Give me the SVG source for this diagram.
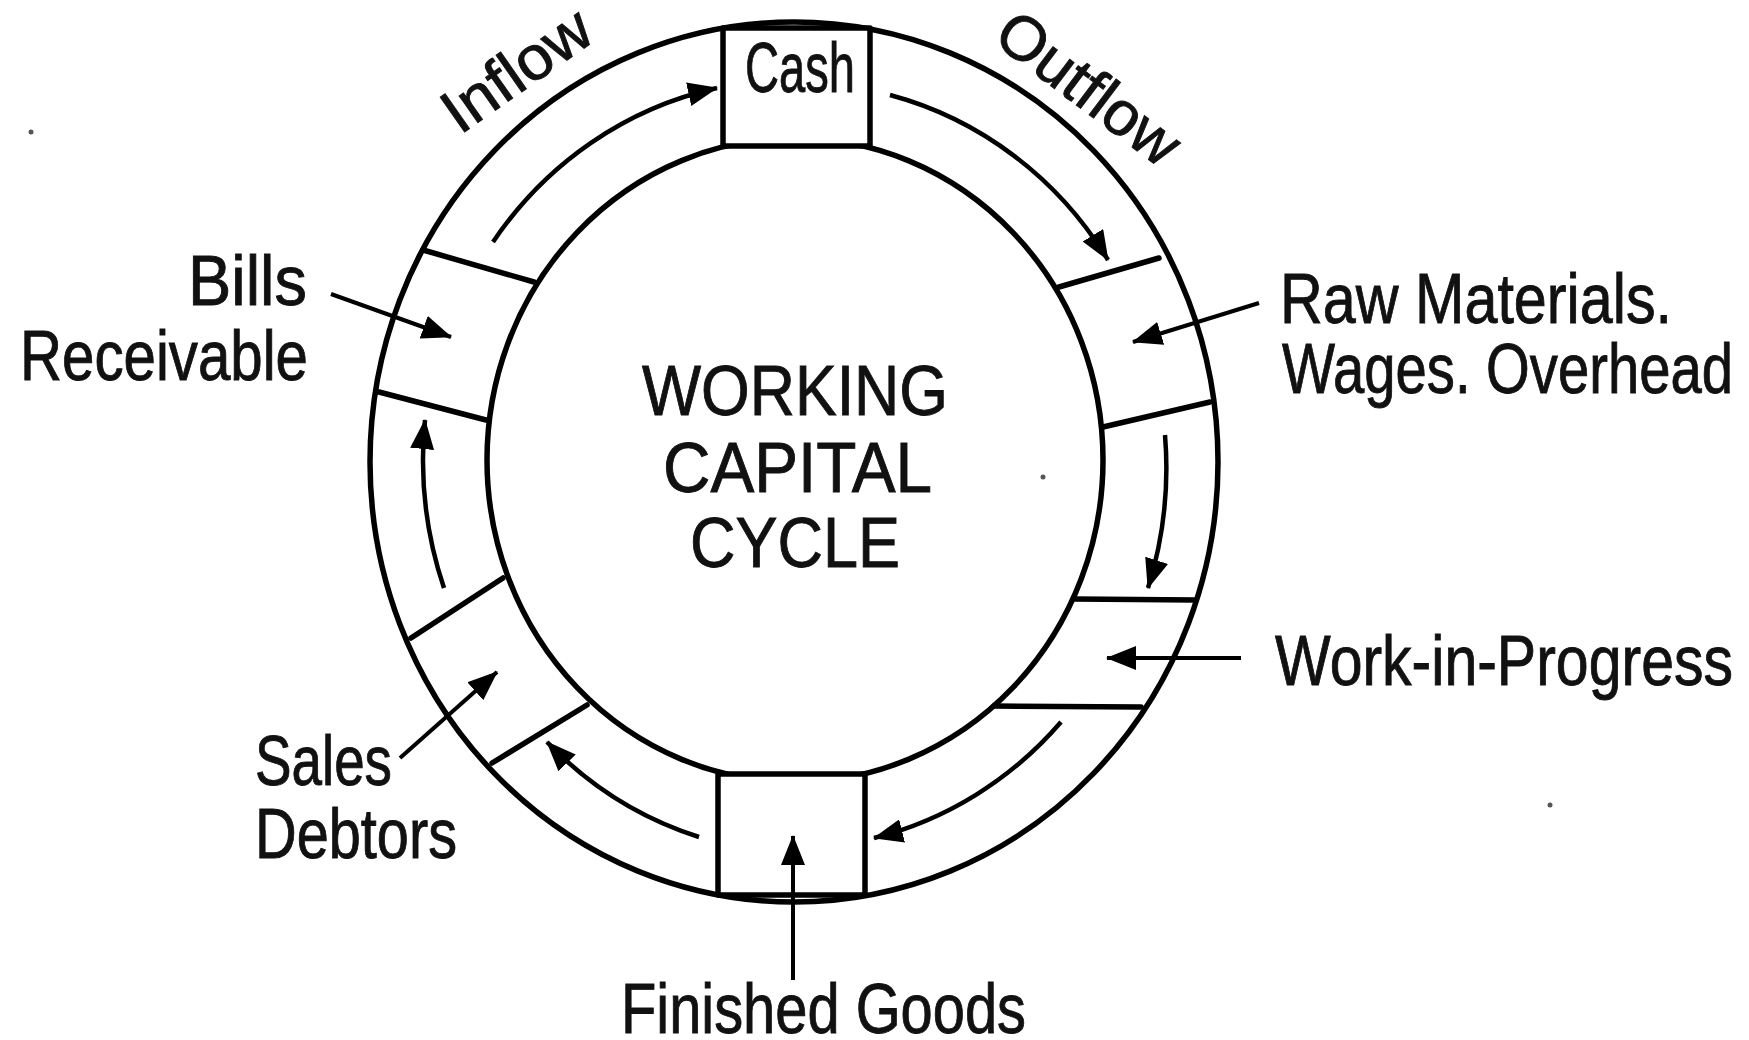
<svg xmlns="http://www.w3.org/2000/svg" width="1749" height="1040" viewBox="0 0 1749 1040">
  <defs>
    <marker id="ah" markerUnits="userSpaceOnUse" markerWidth="32" markerHeight="24" refX="29" refY="12" orient="auto">
      <path d="M0,0 L30,12 L0,24 Z" fill="#000"/>
    </marker>
    <style>
      .ring { fill: none; stroke: #000; stroke-width: 5.5; }
      .div { stroke: #000; stroke-width: 5.5; stroke-linecap: round; }
      .box { fill: #fff; stroke: #000; stroke-width: 5.5; stroke-linejoin: round; }
      .flow { fill: none; stroke: #000; stroke-width: 4.5; marker-end: url(#ah); }
      .ptr { fill: none; stroke: #000; stroke-width: 4; marker-end: url(#ah); }
      .lbl { font-family: "Liberation Sans", Arial, sans-serif; font-size: 70px; fill: #111; stroke: #111; stroke-width: 0.9; }
      .ctr { font-family: "Liberation Sans", Arial, sans-serif; font-size: 70px; fill: #111; stroke: #111; stroke-width: 0.9; }
      .rot { font-family: "Liberation Sans", Arial, sans-serif; font-size: 62px; fill: #111; stroke: #111; stroke-width: 0.9; text-anchor: middle; }
    </style>
  </defs>
  <rect width="1749" height="1040" fill="#fff"/>

  <g id="ring">
    <ellipse class="ring" cx="794" cy="462" rx="424" ry="440"/>
    <ellipse class="ring" cx="795" cy="460" rx="308" ry="322"/>
  </g>

  <g id="dividers">
    <line class="div" x1="423" y1="250" x2="534" y2="282"/>
    <line class="div" x1="379" y1="392" x2="486" y2="420"/>
    <line class="div" x1="411" y1="638" x2="503" y2="578"/>
    <line class="div" x1="492" y1="763" x2="587" y2="705"/>
    <line class="div" x1="1059" y1="287" x2="1159" y2="258"/>
    <line class="div" x1="1103" y1="427" x2="1210" y2="402"/>
    <line class="div" x1="1074" y1="599" x2="1196" y2="600"/>
    <line class="div" x1="994" y1="706" x2="1141" y2="707"/>
  </g>

  <g id="node-cash">
    <rect class="box" x="723" y="28" width="147" height="118"/>
    <text class="lbl" x="745" y="92" font-size="54" textLength="110" lengthAdjust="spacingAndGlyphs">Cash</text>
  </g>

  <g id="node-finished-goods-box">
    <rect class="box" x="718" y="774" width="147" height="121"/>
  </g>

  <g id="center">
    <text class="ctr" x="642" y="415" textLength="306" lengthAdjust="spacingAndGlyphs">WORKING</text>
    <text class="ctr" x="663" y="492" textLength="269" lengthAdjust="spacingAndGlyphs">CAPITAL</text>
    <text class="ctr" x="690" y="567" textLength="210" lengthAdjust="spacingAndGlyphs">CYCLE</text>
  </g>

  <g id="connectors">
    <path class="flow" d="M493,242 A366,381 0 0 1 717,88"/>
    <path class="flow" d="M890,95 A366,381 0 0 1 1108,260"/>
    <path class="flow" d="M1165,435 A372,387 0 0 1 1148,588"/>
    <path class="flow" d="M1061,722 A366,381 0 0 1 874,838"/>
    <path class="flow" d="M699,837 A366,381 0 0 1 547,742"/>
    <path class="flow" d="M444,588 A372,387 0 0 1 425,420"/>

    <line class="ptr" x1="331" y1="294" x2="451" y2="337"/>
    <line class="ptr" x1="1259" y1="303" x2="1133" y2="342"/>
    <line class="ptr" x1="1241" y1="658" x2="1107" y2="658"/>
    <line class="ptr" x1="400" y1="758" x2="497" y2="672"/>
    <line class="ptr" x1="793" y1="980" x2="793" y2="836"/>
  </g>

  <g id="label-inflow">
    <text class="rot" transform="translate(517,71) rotate(-35)" x="0" y="20" textLength="168" lengthAdjust="spacingAndGlyphs">Inflow</text>
  </g>
  <g id="label-outflow">
    <text class="rot" transform="translate(1088,89) rotate(37)" x="0" y="20" textLength="213" lengthAdjust="spacingAndGlyphs">Outflow</text>
  </g>

  <g id="node-bills-receivable">
    <text class="lbl" x="188" y="305" textLength="119" lengthAdjust="spacingAndGlyphs">Bills</text>
    <text class="lbl" x="20" y="380" textLength="288" lengthAdjust="spacingAndGlyphs">Receivable</text>
  </g>
  <g id="node-raw-materials">
    <text class="lbl" x="1280" y="323" textLength="392" lengthAdjust="spacingAndGlyphs">Raw Materials.</text>
    <text class="lbl" x="1282" y="393" textLength="451" lengthAdjust="spacingAndGlyphs">Wages. Overhead</text>
  </g>
  <g id="node-wip">
    <text class="lbl" x="1275" y="685" textLength="458" lengthAdjust="spacingAndGlyphs">Work-in-Progress</text>
  </g>
  <g id="node-sales-debtors">
    <text class="lbl" x="255" y="785" textLength="137" lengthAdjust="spacingAndGlyphs">Sales</text>
    <text class="lbl" x="255" y="858" textLength="202" lengthAdjust="spacingAndGlyphs">Debtors</text>
  </g>
  <g id="node-finished-goods">
    <text class="lbl" x="621" y="1033" font-size="66" textLength="405" lengthAdjust="spacingAndGlyphs">Finished Goods</text>
  </g>

  <g id="specks" fill="#555">
    <circle cx="31" cy="132" r="2.5"/>
    <circle cx="1043" cy="477" r="2.5"/>
    <circle cx="1550" cy="805" r="2.5"/>
  </g>
</svg>
